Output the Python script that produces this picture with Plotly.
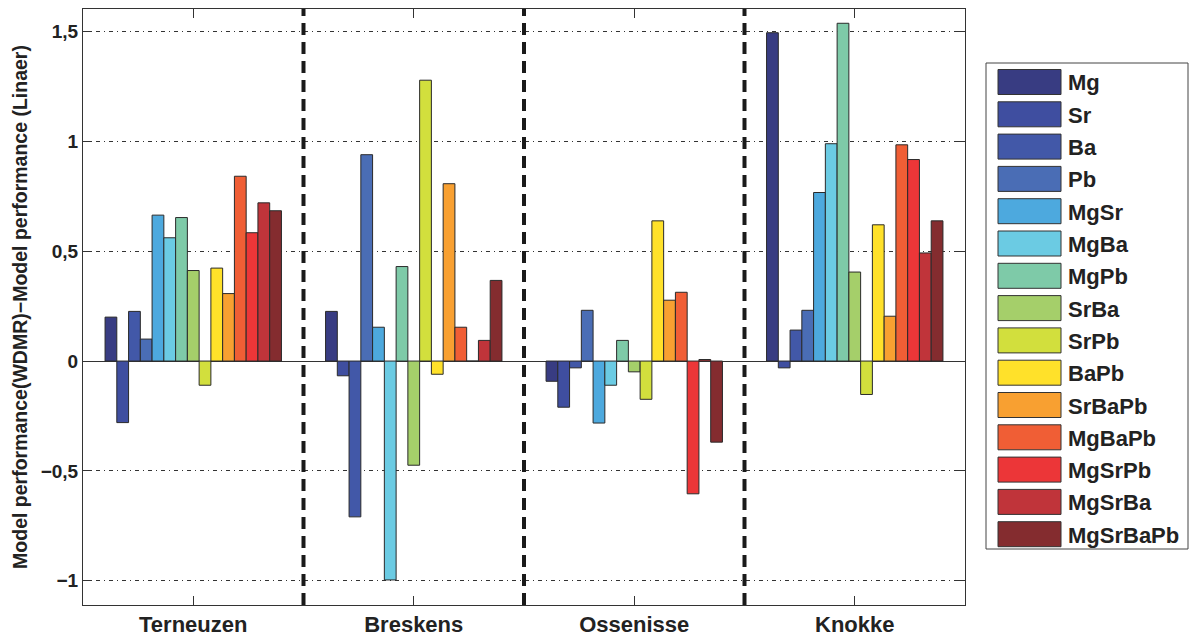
import plotly.graph_objects as go

locations = ["Terneuzen", "Breskens", "Ossenisse", "Knokke"]
series = ["Mg", "Sr", "Ba", "Pb", "MgSr", "MgBa", "MgPb", "SrBa", "SrPb",
          "BaPb", "SrBaPb", "MgBaPb", "MgSrPb", "MgSrBa", "MgSrBaPb"]
colors = ["#383C82", "#3F4EA0", "#4258A8", "#4A6DB5", "#4DA9DE", "#6BCBE3",
          "#7ECAA8", "#A5CF6A", "#D2DF3D", "#FFE12A", "#F8A031", "#F05E35",
          "#EC3638", "#C0343A", "#842C2F"]

terneuzen = [0.20, -0.28, 0.226, 0.10, 0.664, 0.561, 0.653, 0.412, -0.11,
             0.423, 0.307, 0.841, 0.584, 0.720, 0.684]
breskens = [0.226, -0.067, -0.709, 0.939, 0.154, -0.996, 0.430, -0.474, 1.278,
            -0.060, 0.807, 0.154, 0.0, 0.094, 0.367]
ossenisse = [-0.092, -0.210, -0.031, 0.231, -0.282, -0.110, 0.094, -0.049,
             -0.174, 0.638, 0.277, 0.313, -0.604, 0.007, -0.369]
knokke = [1.494, -0.031, 0.141, 0.231, 0.767, 0.989, 1.537, 0.405, -0.152,
          0.620, 0.204, 0.984, 0.917, 0.492, 0.638]

ytick_vals = [-1, -0.5, 0, 0.5, 1, 1.5]
ytick_text = ["\u22121", "\u22120,5", "0", "0,5", "1", "1,5"]

values_by_loc = [terneuzen, breskens, ossenisse, knokke]

FONT = "Arial, Liberation Sans, Helvetica, sans-serif"

fig = go.Figure()
for i, name in enumerate(series):
    fig.add_trace(go.Bar(
        x=locations,
        y=[vals[i] for vals in values_by_loc],
        name=name,
        marker=dict(color=colors[i], line=dict(color="#2a2a2a", width=1)),
        showlegend=False,
    ))

# vertical dashed separators between locations
for k in range(len(locations) - 1):
    fig.add_shape(type="line", xref="x", yref="paper", x0=k + 0.5, x1=k + 0.5,
                  y0=0, y1=1, line=dict(color="#1a1a1a", width=4, dash="12px,7px"),
                  layer="above")

# custom legend (MATLAB-style wide swatches)
W, H = 882.0, 596.0
L, T = 83.0, 9.0
def px(xp):
    return (xp - L) / W
def py(yp):
    return (T + H - yp) / H

fig.add_shape(type="rect", xref="paper", yref="paper",
              x0=px(986), x1=px(1188), y0=py(549), y1=py(63),
              line=dict(color="#444444", width=1), fillcolor="white")
pitch = 32.3
for i, name in enumerate(series):
    cy = 82 + i * pitch
    fig.add_shape(type="rect", xref="paper", yref="paper",
                  x0=px(998), x1=px(1061), y0=py(cy + 12.5), y1=py(cy - 12.5),
                  line=dict(color="#333333", width=1), fillcolor=colors[i])
    fig.add_annotation(xref="paper", yref="paper", x=px(1066), y=py(cy + 1),
                       text="<b>" + name + "</b>", showarrow=False,
                       xanchor="left", yanchor="middle",
                       font=dict(family=FONT, size=22, color="#222222"))

fig.update_layout(
    width=1196, height=639,
    margin=dict(l=83, r=231, t=9, b=34),
    paper_bgcolor="white", plot_bgcolor="white",
    barmode="group", bargap=0.2, bargroupgap=0,
    font=dict(family=FONT, color="#222222"),
)
fig.update_xaxes(
    range=[-0.5, 3.5], showline=True, linecolor="#333333", linewidth=1,
    mirror="allticks", ticks="inside", ticklen=9, tickcolor="#333333",
    tickfont=dict(family=FONT, size=22, color="#222222", weight="bold"),
    showgrid=False, zeroline=False, automargin=False,
)
fig.update_yaxes(
    range=[-1.11, 1.602], showline=True, linecolor="#333333", linewidth=1,
    mirror="allticks", ticks="inside", ticklen=9, tickcolor="#333333",
    tickvals=ytick_vals, ticktext=ytick_text,
    tickfont=dict(family=FONT, size=19, color="#222222", weight="bold"),
    showgrid=True, gridcolor="#333333", gridwidth=1, griddash="4px,4px,1px,4px",
    zeroline=True, zerolinecolor="#333333", zerolinewidth=1, automargin=False,
    title=dict(text="Model performance(WDMR)\u2212Model performance (Linaer)",
               font=dict(family=FONT, size=19.5, color="#222222", weight="bold"),
               standoff=7),
)

fig.write_html("out.html", post_script="document.body.style.margin='0';",
               config={"displayModeBar": False})
